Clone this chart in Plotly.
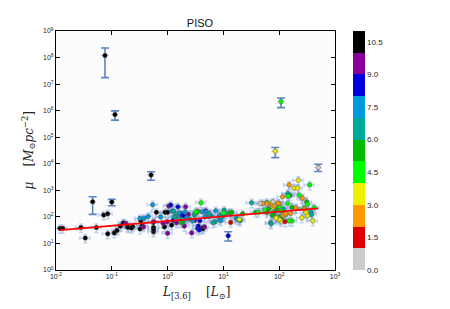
import plotly.graph_objects as go

# ---------------- data ----------------
# main cluster: luminosity L[3.6] (Lsun), central density mu (Msun/pc^2), colour value
lum = [
    # black
    0.0118, 0.0132, 0.028, 0.0335, 0.053, 0.0716, 0.0845, 0.0845, 0.111, 0.124, 0.142, 0.161,
    0.190, 0.198, 0.237, 0.225, 0.32, 0.35, 0.33, 0.56, 0.56, 0.56, 0.55, 0.63, 0.9, 1.0, 0.88,
    1.18, 4.1, 4.3,
    # purple
    0.177, 0.37, 0.57, 0.99, 1.0, 1.05, 2.1, 2.35, 2.7, 3.1, 4.6, 0.83, 4.8, 1.45, 2.0,
    # blue
    1.14, 1.53, 1.72, 1.79, 3.46, 3.7, 3.8, 1.94, 3.55, 1.25,
    # light blue
    0.32, 0.38, 0.54, 1.2, 2.05, 4.2, 4.7, 5.0, 7.27, 2.2, 8.5, 9.0, 17, 0.45, 2.8, 6.0, 1.6, 0.75,
    # teal
    1.29, 1.40, 1.32, 1.9, 2.45, 5.52, 7.07, 10.3, 8.5, 9.5, 11, 1.6, 3.0, 32, 20, 70, 72, 142,
    370, 5.5, 6.5, 18, 380, 120,
    # dark green
    1.79, 3.27, 3.46, 14.1, 22.2, 37.9, 65, 80, 75, 90, 100, 156, 280, 310, 170, 60, 110, 13,
    # lime
    3.97, 3.2, 42, 60, 100, 142, 170, 229, 320, 85, 110, 145, 200, 55, 351, 10, 425, 150,
    # yellow
    19.3, 220, 186, 214, 255, 320, 400, 107, 100, 90, 300, 130, 72, 78, 88,
    # orange
    50.6, 151, 260, 115, 117, 75, 100, 200, 160, 280, 82, 130, 95, 60,
    # red
    13.5, 127,
    # gray
    45.5, 78,
]
mu = [
    # black
    37, 37, 40, 16, 40, 117, 131, 23, 25, 31, 45, 60,
    42, 40, 43, 38, 35, 48, 72, 40, 27.5, 33, 62, 148, 148, 148, 42,
    49, 37, 36,
    # purple
    57, 42, 66, 66, 24, 255, 240, 124, 25, 75, 42, 57, 170, 60, 45,
    # blue
    280, 240, 131, 117, 37, 32, 71, 110, 45, 75,
    # light blue
    88, 88, 285, 165, 155, 155, 100, 155, 170, 90, 80, 72, 92, 105, 70, 110, 140, 100,
    # teal
    165, 107, 100, 66, 83, 107, 65, 180, 115, 100, 130, 85, 120, 340, 72, 60, 55, 760,
    155, 130, 60, 80, 124, 200,
    # dark green
    60, 143, 161, 148, 130, 148, 200, 140, 115, 180, 100, 645, 210, 370, 230, 148, 80, 145,
    # lime
    340, 155, 150, 350, 250, 320, 70, 660, 300, 260, 165, 600, 210, 185, 1600, 140, 226, 71,
    # yellow
    80, 2400, 1200, 1200, 92, 110, 71, 69, 80, 95, 150, 120, 330, 230, 90,
    # orange
    320, 1600, 500, 570, 115, 290, 320, 215, 135, 200, 260, 130, 330, 310,
    # red
    62, 66,
    # gray
    320, 370,
]
cval = (
    [10.5] * 30 + [9.5] * 15 + [8.5] * 10 + [7.5] * 18 + [6.5] * 24 + [5.5] * 18 +
    [4.5] * 18 + [3.5] * 15 + [2.5] * 14 + [1.5] * 2 + [0.5] * 2
)

# points with large individual error bars
out_lum = [0.0755, 0.114, 0.505, 0.0454, 0.1, 107.7, 85, 500, 12.2]
out_mu = [1.2e8, 7.1e5, 3.8e3, 370, 360, 2.2e6, 2.97e4, 7.2e3, 19.5]
out_mu_hi = [2.3e8, 9.8e5, 5.0e3, 570, 455, 3.0e6, 4.1e4, 9.6e3, 27.6]
out_mu_lo = [1.75e7, 4.4e5, 2.4e3, 124, 262, 1.3e6, 1.7e4, 5.1e3, 12.3]
out_c = [10.5, 10.5, 10.5, 10.5, 10.5, 4.5, 3.5, 0.5, 8.5]

# fitted power-law (straight in log-log), endpoints
fit_lum = [0.0118, 500]
fit_mu = [32, 208]

# axis ticks
x_tickvals = [1e-2, 1e-1, 1e0, 1e1, 1e2, 1e3]
x_ticktext = ["10<sup>-2</sup>", "10<sup>-1</sup>", "10<sup>0</sup>", "10<sup>1</sup>",
              "10<sup>2</sup>", "10<sup>3</sup>"]
y_tickvals = [10 ** k for k in range(0, 10)]
y_ticktext = ["10<sup>%d</sup>" % k for k in range(0, 10)]
cb_tickvals = [0, 1.5, 3, 4.5, 6, 7.5, 9, 10.5]
cb_ticktext = ["0.0", "1.5", "3.0", "4.5", "6.0", "7.5", "9.0", "10.5"]
bin_colors = ["#cccccc", "#dd0000", "#ff9900", "#eeee00", "#00ff00", "#00bb00",
              "#00a898", "#0099dd", "#0000dd", "#880099", "#000000"]

# ---------------- figure ----------------
n = len(bin_colors)
cscale = []
for i, col in enumerate(bin_colors):
    cscale.append([i / n, col])
    cscale.append([(i + 1) / n, col])

err_diff_hi = [h - m for h, m in zip(out_mu_hi, out_mu)]
err_diff_lo = [m - l for m, l in zip(out_mu, out_mu_lo)]

fig = go.Figure()

# small error bars of the cluster
fig.add_trace(go.Scatter(
    x=lum, y=mu, mode="markers", marker=dict(size=1, opacity=0),
    error_x=dict(type="percent", value=20, color="rgba(110,150,215,0.4)", thickness=1.5, width=2),
    error_y=dict(type="percent", value=35, color="rgba(110,150,215,0.4)", thickness=1.5, width=2),
    showlegend=False, hoverinfo="skip",
))
# large error bars of the outliers
fig.add_trace(go.Scatter(
    x=out_lum, y=out_mu, mode="markers", marker=dict(size=1, opacity=0),
    error_y=dict(type="data", array=err_diff_hi, arrayminus=err_diff_lo,
                 color="#5b84c4", thickness=1.6, width=4),
    error_x=dict(type="percent", value=15, color="rgba(110,150,215,0.4)", thickness=1.2, width=0),
    showlegend=False, hoverinfo="skip",
))
# all markers
fig.add_trace(go.Scatter(
    x=lum + out_lum, y=mu + out_mu, mode="markers",
    marker=dict(size=4.6, color=cval + out_c, colorscale=cscale, cmin=0, cmax=11,
                line=dict(color="#555555", width=0.5),
                colorbar=dict(x=1.063, xanchor="left", xpad=0, y=0.5, yanchor="middle",
                              len=1, lenmode="fraction", ypad=0, thickness=12,
                              outlinewidth=0, tickvals=cb_tickvals, ticktext=cb_ticktext,
                              ticks="", tickfont=dict(size=8, color="#222222",
                                                      family="Liberation Sans, Arial"))),
    showlegend=False,
))
# fit line
fig.add_trace(go.Scatter(
    x=fit_lum, y=fit_mu, mode="lines", line=dict(color="#ff0000", width=1.8),
    showlegend=False,
))

axis_common = dict(
    type="log", showgrid=False, zeroline=False, showline=True, linecolor="#000000",
    linewidth=1, mirror="ticks", ticks="inside", ticklen=4, tickcolor="#000000",
    tickfont=dict(size=7, color="#222222", family="Liberation Sans, Arial"),
)
fig.update_xaxes(range=[-2, 3], tickvals=x_tickvals, ticktext=x_ticktext, **axis_common)
fig.update_yaxes(range=[0, 9], tickvals=y_tickvals, ticktext=y_ticktext, **axis_common)

fig.update_layout(
    width=442, height=301,
    margin=dict(l=48, r=115, t=23, b=39),
    paper_bgcolor="#ffffff", plot_bgcolor="#fcfcfd",
    title=dict(text="PISO", x=0.4344, xanchor="center", y=0.951, yanchor="middle",
               yref="container", font=dict(size=11, color="#111111",
                                           family="Liberation Sans, Arial")),
    annotations=[
        dict(text="<i>L</i><sub>[3.6]</sub>    [<i>L</i><sub>⊙</sub>]", xref="paper",
             yref="paper", x=0.5, y=-0.096, xanchor="center", yanchor="middle",
             showarrow=False, font=dict(size=12, color="#222222", family="DejaVu Serif")),
        dict(text="<i>μ</i>    [<i>M</i><sub>⊙</sub><i>pc</i><sup>−2</sup>]", xref="paper",
             yref="paper", x=-0.1, y=0.5, xanchor="center", yanchor="middle",
             textangle=-90, showarrow=False,
             font=dict(size=12, color="#222222", family="DejaVu Serif")),
    ],
)

fig.write_html("out.html")
